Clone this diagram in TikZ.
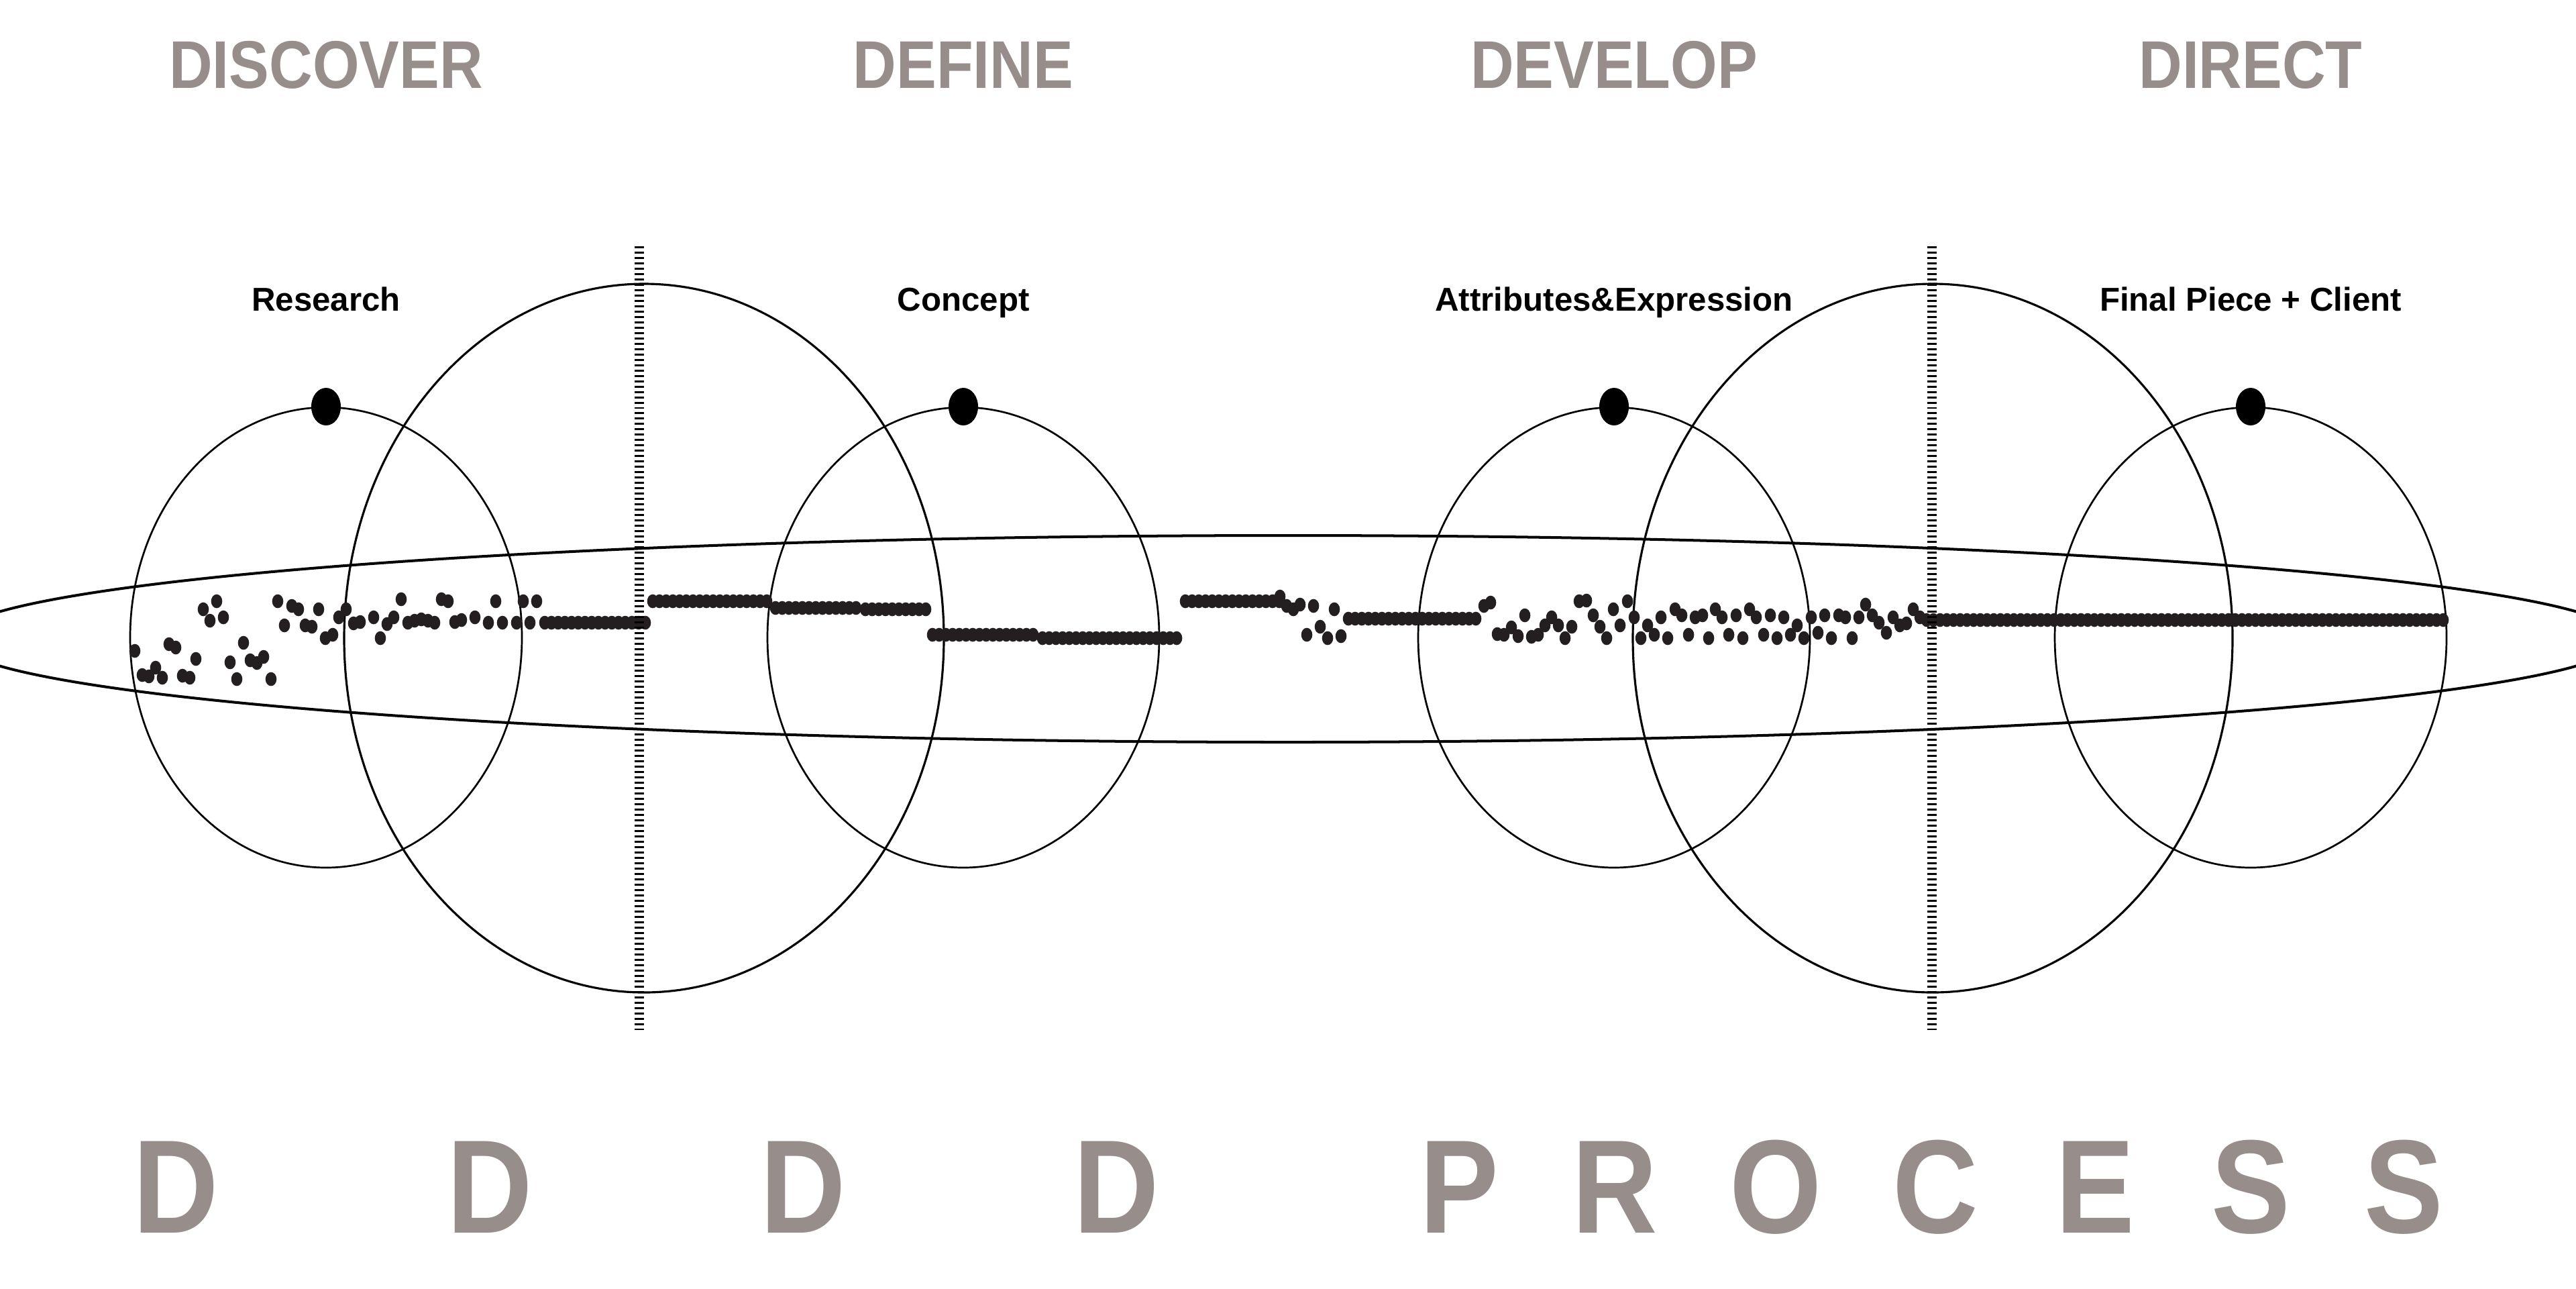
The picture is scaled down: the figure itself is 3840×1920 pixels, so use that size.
\documentclass[tikz,border=0pt]{standalone}
\usepackage{fontspec}
\setmainfont{Liberation Sans}
\usepackage{graphicx}
\definecolor{processgray}{HTML}{978E8B}
\definecolor{dotblack}{HTML}{231F20}
\newcommand{\condensed}[1]{\scalebox{0.89}[1]{#1}}
\tikzset{
    phasetitle/.style={
        text=processgray,
        inner sep=0pt,
        anchor=base,
        font=\fontsize{28.6pt}{30pt}\selectfont\bfseries
    },
    phaselabel/.style={
        inner sep=0pt,
        anchor=base,
        font=\fontsize{14pt}{16pt}\selectfont\bfseries
    },
    bigletter/.style={
        text=processgray,
        inner sep=0pt,
        anchor=base,
        font=\fontsize{56.4pt}{60pt}\selectfont\bfseries
    },
    stagecircle/.style={
        draw=black,
        line width=0.77pt
    },
    spanellipse/.style={
        draw=black,
        line width=0.9pt
    },
    flowellipse/.style={
        draw=black,
        line width=1.14pt
    },
    phasedivider/.style={
        draw=black,
        line width=3.8pt,
        dash pattern=on 0.85pt off 1.42pt
    },
    stagemark/.style={
        fill=black
    },
    trail/.style={
        fill=dotblack
    }
}

\begin{document}
\begin{tikzpicture}[x=0.01cm,y=-0.01cm]
    \path[use as bounding box,fill=white] (0,0) rectangle (3840,1920);
    \clip (0,0) rectangle (3840,1920);

    % stage circles and the two spanning ellipses
    \foreach \cx in {486,1436,2406,3355}
        \path[stagecircle] (\cx,950) ellipse [x radius=292, y radius=343];
    \path[spanellipse] (960,951) ellipse [x radius=447, y radius=528];
    \path[spanellipse] (2881,951) ellipse [x radius=447, y radius=528];
    \path[flowellipse] (1920,952) ellipse [x radius=1990, y radius=154];

    % scattered dots
    \foreach \x/\y in {201/970,252/960,262/965,212/1006,222/1008,232/995,242/1010,
        272/1007,283/1010,292/982,303/908,323/896,313/925,333/920,343/987,363/958,
        353/1012,373/984,383/988,393/979,404/1012,414/896,424/932,435/903,445/908,
        455/932,465/934,475/908,485/951,496/946,505/920,516/908,527/929,537/927,
        557/920,577/930,587/920,567/951,598/893,608/928,618/925,628/923,638/925,
        648/928,658/893,668/896,678/927,688/924,708/920,728/928,749/928,770/928,
        790/928,739/896,780/896,800/896,
        1908/889,1918/903,1928/908,1938/901,1958/903,1989/908,1968/934,1948/946,
        1979/951,1999/948,
        2212/903,2222/898,2232/945,2242/946,2253/935,2263/948,2273/917,2283/949,
        2293/946,2303/932,2313/920,2323/932,2333/951,2343/934,2354/896,2365/895,
        2375/917,2385/934,2395/951,2405/908,2415/932,2426/896,2436/920,2446/951,
        2456/932,2466/946,2476/920,2486/951,2497/908,2507/917,2517/946,2527/920,
        2538/917,2547/951,2557/908,2567/920,2577/946,2588/917,2598/951,2608/908,
        2618/920,2629/946,2639/917,2649/951,2659/920,2669/946,2679/932,2689/951,
        2700/920,2710/943,2720/917,2730/951,2741/917,2751/920,2761/951,2771/920,
        2781/901,2791/917,2801/928,2812/943,2822/920,2832/932,2842/929,2852/908,
        2862/920}
        \path[trail] (\x,\y) ellipse [x radius=8.3, y radius=10.3];

    % dense rows of dots
    \foreach \a/\n/\y in {812/15/928,973/17/896,1156/12/906,1290/9/908,1390/15/946,
        1554/20/951,1767/14/896,2010/19/922,2872/77/924}
        \foreach \k in {0,...,\n}
            \path[trail] ({\a+10*\k},\y) ellipse [x radius=8.3, y radius=10.3];

    \draw[phasedivider] (953,367) -- (953,1538);
    \draw[phasedivider] (2880,367) -- (2880,1538);

    \foreach \cx in {486,1436,2406,3355}
        \path[stagemark] (\cx,606) ellipse [x radius=22, y radius=28];

    \node[phasetitle] (discover) at (486,131) {\condensed{DISCOVER}};
    \node[phasetitle] (define) at (1436,131) {\condensed{DEFINE}};
    \node[phasetitle] (develop) at (2406,131) {\condensed{DEVELOP}};
    \node[phasetitle] (direct) at (3355,131) {\condensed{DIRECT}};

    \node[phaselabel] (research) at (486,463) {Research};
    \node[phaselabel] (concept) at (1436,463) {Concept};
    \node[phaselabel] (attributes) at (2406,463) {Attributes\&Expression};
    \node[phaselabel] (finalpiece) at (3355,463) {Final Piece + Client};

    \foreach \ch/\x [count=\i] in {D/262,D/730,D/1197,D/1664,P/2175,R/2407,
        O/2647,C/2885,E/3123,S/3355,S/3583}
        \node[bigletter] (letter\i) at (\x,1837) {\condensed{\ch}};
\end{tikzpicture}
\end{document}
